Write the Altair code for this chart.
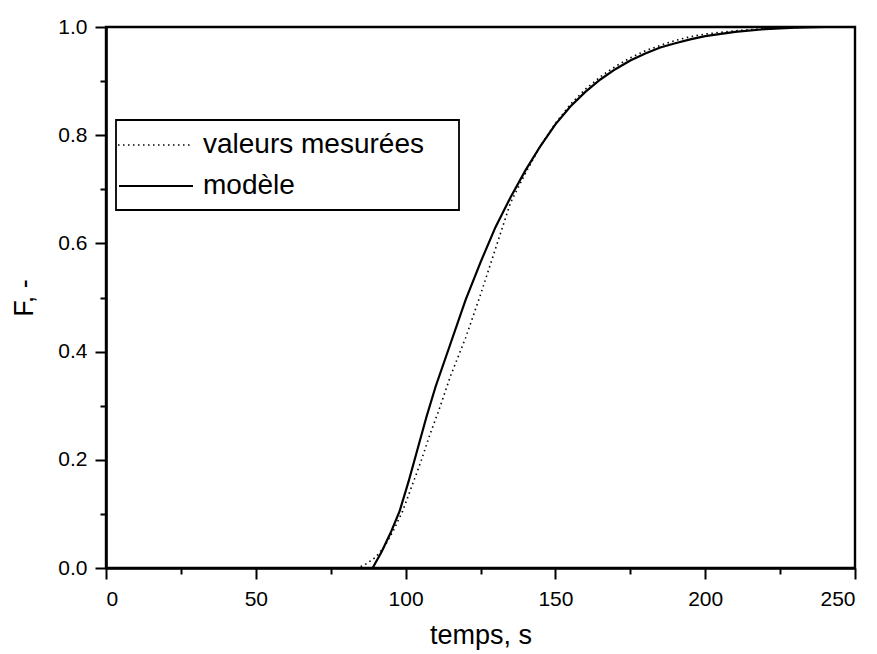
import altair as alt
import pandas as pd

# ---- data ----
model_t = [0, 89, 92, 95, 98, 101, 104, 107, 110, 115, 120, 125, 130, 135, 140, 145,
           150, 155, 160, 165, 170, 175, 180, 185, 190, 195, 200, 210, 220, 230, 240]
model_F = [0, 0, 0.03, 0.065, 0.105, 0.16, 0.22, 0.28, 0.335, 0.415, 0.495, 0.565, 0.63,
           0.685, 0.735, 0.78, 0.82, 0.853, 0.88, 0.903, 0.922, 0.938, 0.951, 0.962,
           0.97, 0.977, 0.983, 0.991, 0.996, 0.999, 1.0]

meas_t = [0, 84, 87, 90, 93, 96, 99, 102, 105, 108, 111, 115, 120, 125, 130, 135, 140,
          145, 150, 155, 160, 165, 170, 175, 180, 185, 190, 195, 200, 210, 220, 230, 236]
meas_F = [0, 0, 0.008, 0.02, 0.04, 0.07, 0.105, 0.15, 0.195, 0.245, 0.29, 0.355, 0.425,
          0.505, 0.59, 0.675, 0.73, 0.78, 0.822, 0.857, 0.885, 0.908, 0.927, 0.943,
          0.956, 0.966, 0.975, 0.982, 0.987, 0.993, 0.997, 0.999, 1.0]

legend_labels = ["valeurs mesurées", "modèle"]
x_ticks = [0, 25, 50, 75, 100, 125, 150, 175, 200, 225, 250]
y_ticks = [0.0, 0.1, 0.2, 0.3, 0.4, 0.5, 0.6, 0.7, 0.8, 0.9, 1.0]

FONT = "Liberation Sans"
W, H = 749, 541

df_model = pd.DataFrame({"t": model_t, "F": model_F})
df_meas = pd.DataFrame({"t": meas_t, "F": meas_F})

x_enc = alt.X(
    "t:Q",
    scale=alt.Scale(domain=[0, 250], nice=False, zero=False),
    axis=alt.Axis(
        title="temps, s",
        values=x_ticks,
        labelExpr="datum.value % 50 === 0 ? datum.label : ''",
        tickSize={"condition": {"test": "datum.value % 50 === 0", "value": 11}, "value": 6},
        titleY=75,
        titleBaseline="alphabetic",
        labelPadding=9,
    ),
)
y_enc = alt.Y(
    "F:Q",
    scale=alt.Scale(domain=[0, 1], nice=False),
    axis=alt.Axis(
        title="F, -",
        values=y_ticks,
        format=".1f",
        labelExpr="round(datum.value * 10) % 2 === 0 ? datum.label : ''",
        tickSize={"condition": {"test": "round(datum.value * 10) % 2 === 0", "value": 11}, "value": 6},
        titleX=-74,
        titleBaseline="alphabetic",
        labelPadding=8,
    ),
)

model_line = alt.Chart(df_model).mark_line(color="black", strokeWidth=2.2).encode(x=x_enc, y=y_enc)
meas_line = alt.Chart(df_meas).mark_line(
    color="black", strokeWidth=1.6, strokeDash=[1.5, 3.5]
).encode(x="t:Q", y="F:Q")

# ---- legend box (drawn in pixel space of the plot) ----
box = alt.Chart(pd.DataFrame({"a": [0]})).mark_rect(
    fill="white", stroke="black", strokeWidth=1.8
).encode(x=alt.value(10), x2=alt.value(353), y=alt.value(93), y2=alt.value(183))

leg_meas = alt.Chart(pd.DataFrame({"a": [0]})).mark_rule(
    color="black", strokeWidth=1.6, strokeDash=[1.5, 3.5]
).encode(x=alt.value(12), x2=alt.value(84), y=alt.value(118))
leg_model = alt.Chart(pd.DataFrame({"a": [0]})).mark_rule(
    color="black", strokeWidth=2.2
).encode(x=alt.value(13), x2=alt.value(87), y=alt.value(159))

txt1 = alt.Chart(pd.DataFrame({"a": [0]})).mark_text(
    align="left", baseline="middle", font=FONT, fontSize=28, color="black"
).encode(x=alt.value(97), y=alt.value(118), text=alt.value(legend_labels[0]))
txt2 = alt.Chart(pd.DataFrame({"a": [0]})).mark_text(
    align="left", baseline="middle", font=FONT, fontSize=28, color="black"
).encode(x=alt.value(97), y=alt.value(159), text=alt.value(legend_labels[1]))

chart = alt.layer(model_line, meas_line, box, leg_meas, leg_model, txt1, txt2).properties(
    width=W,
    height=H,
    autosize=alt.AutoSizeParams(type="none"),
    padding={"left": 106, "top": 27, "right": 22, "bottom": 86},
    background="white",
).configure_view(
    stroke="black", strokeWidth=2.4
).configure_axis(
    grid=False,
    domainColor="black",
    domainWidth=2.6,
    tickColor="black",
    tickWidth=2,
    labelFont=FONT,
    labelFontSize=21,
    labelColor="black",
    titleFont=FONT,
    titleFontSize=27,
    titleFontWeight="normal",
    titleColor="black",
)

chart.save("out.html", embed_options={"renderer": "svg", "actions": False})
